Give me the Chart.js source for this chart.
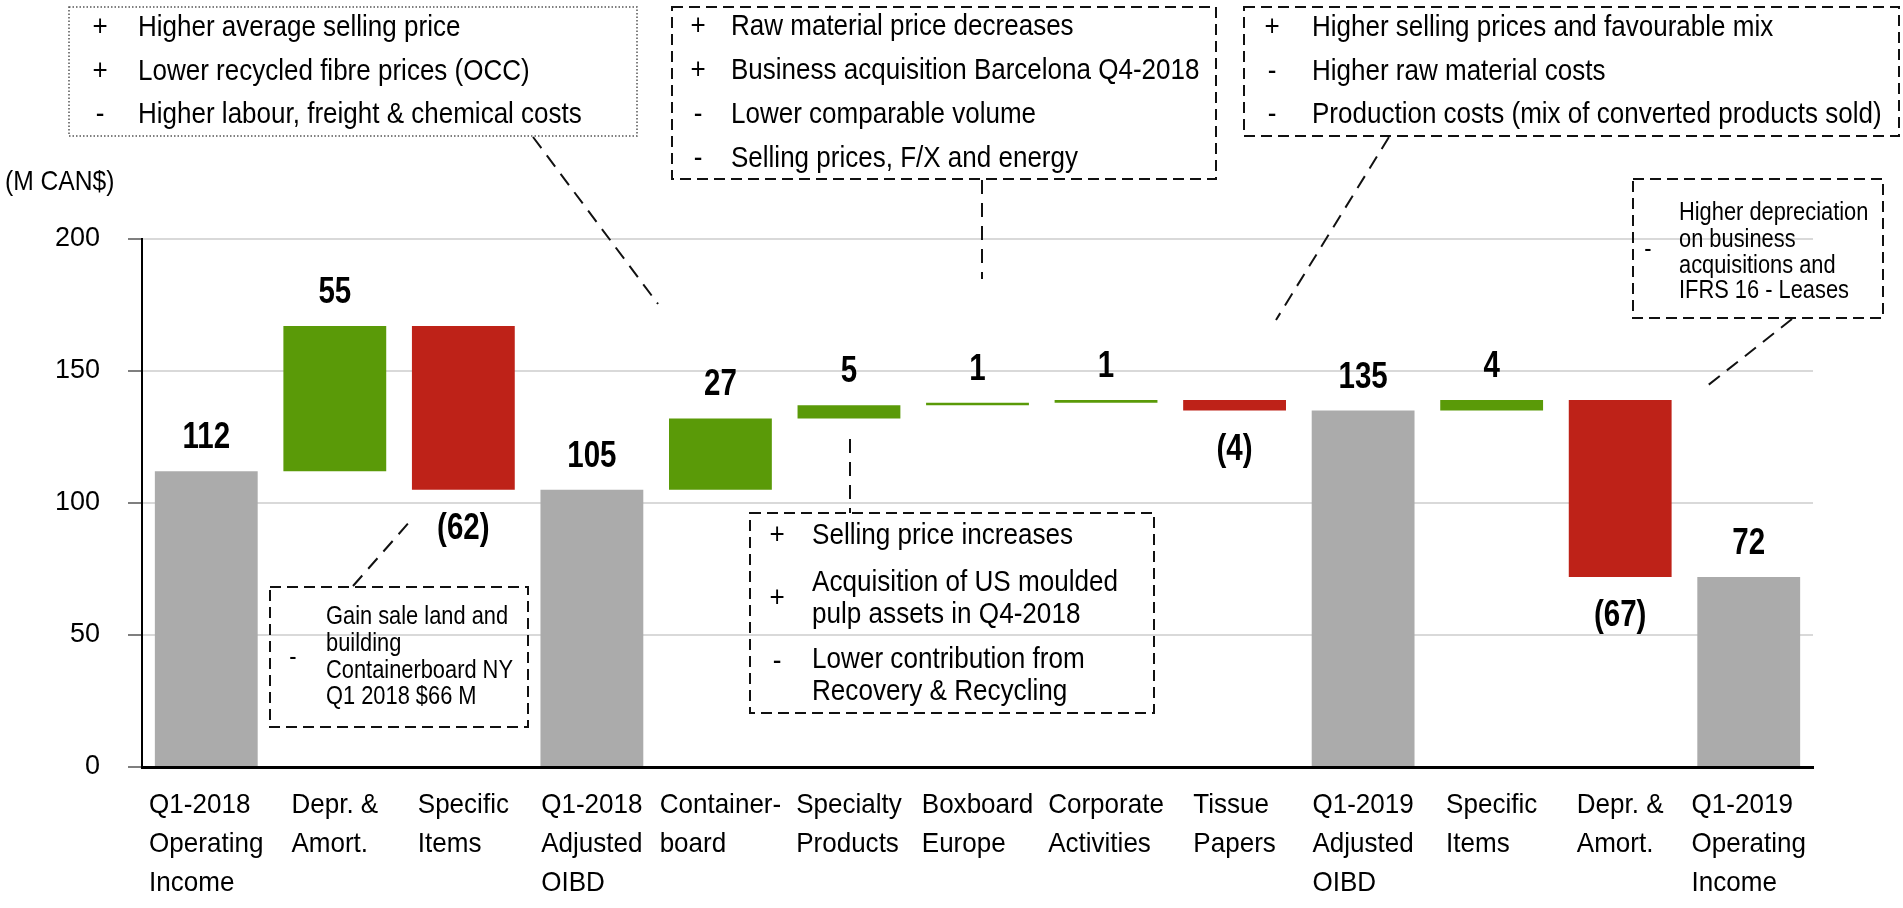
<!DOCTYPE html>
<html>
<head>
<meta charset="utf-8">
<title>Q1 OIBD bridge</title>
<script src="https://cdn.jsdelivr.net/npm/chart.js@4.4.0/dist/chart.umd.min.js"></script>
<style>
  html, body { margin: 0; padding: 0; background: #fff; }
  #wrap { width: 1903px; height: 908px; position: relative; }
</style>
</head>
<body>
<div id="wrap"><canvas id="bridgeChart" width="1903" height="908"></canvas></div>
<script>
// ---- data ----
const categories = [
  ["Q1-2018", "Operating", "Income"],
  ["Depr. &", "Amort."],
  ["Specific", "Items"],
  ["Q1-2018", "Adjusted", "OIBD"],
  ["Container-", "board"],
  ["Specialty", "Products"],
  ["Boxboard", "Europe"],
  ["Corporate", "Activities"],
  ["Tissue", "Papers"],
  ["Q1-2019", "Adjusted", "OIBD"],
  ["Specific", "Items"],
  ["Depr. &", "Amort."],
  ["Q1-2019", "Operating", "Income"]
];
const amounts = [112, 55, -62, 105, 27, 5, 1, 1, -4, 135, 4, -67, 72];
const isTotal = [true, false, false, true, false, false, false, false, false, true, false, false, true];
const yTicks = [0, 50, 100, 150, 200];
const unitLabel = "(M CAN$)";

// callout texts
const noteContainerboard = [
  ["+", ["Higher average selling price"]],
  ["+", ["Lower recycled fibre prices (OCC)"]],
  ["-", ["Higher labour, freight & chemical costs"]]
];
const noteBoxboard = [
  ["+", ["Raw material price decreases"]],
  ["+", ["Business acquisition Barcelona Q4-2018"]],
  ["-", ["Lower comparable volume"]],
  ["-", ["Selling prices, F/X and energy"]]
];
const noteTissue = [
  ["+", ["Higher selling prices and favourable mix"]],
  ["-", ["Higher raw material costs"]],
  ["-", ["Production costs (mix of converted products sold)"]]
];
const noteDepr2019 = [
  ["-", ["Higher depreciation", "on business", "acquisitions and", "IFRS 16 - Leases"]]
];
const noteSpecific2018 = [
  ["-", ["Gain sale land and", "building", "Containerboard NY", "Q1 2018 $66 M"]]
];
const noteSpecialty = [
  ["+", ["Selling price increases"]],
  ["+", ["Acquisition of US moulded", "pulp assets in Q4-2018"]],
  ["-", ["Lower contribution from", "Recovery & Recycling"]]
];

// ---- styles ----
const FONT = "'Liberation Sans', Arial, sans-serif";
const GREY = "#ABABAB", GREEN = "#5A9A08", RED = "#BE2218";

// floating ranges for the bridge
let level = 0;
const ranges = amounts.map((v, i) => {
  if (isTotal[i]) { level = v; return [0, v]; }
  const start = level;
  level += v;
  return [start, level];
});
const colors = amounts.map((v, i) => isTotal[i] ? GREY : (v < 0 ? RED : GREEN));
const valueText = amounts.map((v, i) => (!isTotal[i] && v < 0) ? "(" + Math.abs(v) + ")" : String(v));

// the slide text is a bit condensed, squeeze it horizontally
function squeezeText(ctx, text, x, y, sx) {
  ctx.save();
  ctx.translate(x, y);
  ctx.scale(sx, 1);
  ctx.fillText(text, 0, 0);
  ctx.restore();
}

// bold numbers above / below each bar
const valueLabels = {
  id: "valueLabels",
  afterDatasetsDraw(chart) {
    const ctx = chart.ctx;
    const meta = chart.getDatasetMeta(0);
    ctx.save();
    ctx.font = "bold 36px " + FONT;
    ctx.fillStyle = "#000";
    ctx.textAlign = "center";
    ctx.textBaseline = "middle";
    meta.data.forEach((el, i) => {
      const top = Math.min(el.y, el.base), bottom = Math.max(el.y, el.base);
      const y = (!isTotal[i] && amounts[i] < 0) ? bottom + 39 : top - 33;
      squeezeText(ctx, valueText[i], el.x, y, 0.82);
    });
    ctx.restore();
  }
};

// category labels: block centred under the bar, lines left aligned
const categoryLabels = {
  id: "categoryLabels",
  afterDraw(chart) {
    const ctx = chart.ctx;
    const xs = chart.scales.x;
    const sx = 0.93;
    ctx.save();
    ctx.font = "28px " + FONT;
    ctx.fillStyle = "#000";
    ctx.textAlign = "left";
    ctx.textBaseline = "middle";
    categories.forEach((lines, i) => {
      const cx = xs.getPixelForValue(i);
      const w = Math.max(...lines.map(l => ctx.measureText(l).width)) * sx;
      lines.forEach((l, k) => squeezeText(ctx, l, cx - w / 2, chart.chartArea.bottom + 38 + k * 39, sx));
    });
    squeezeText(ctx, unitLabel, 5, 182, 0.88);
    ctx.restore();
  }
};

function drawBox(ctx, b) {
  ctx.save();
  ctx.strokeStyle = b.dotted ? "#555" : "#111";
  ctx.lineWidth = b.dotted ? 1.5 : 2;
  ctx.setLineDash(b.dotted ? [1.5, 2] : [11, 6]);
  ctx.strokeRect(b.x0, b.y0, b.x1 - b.x0, b.y1 - b.y0);
  ctx.strokeStyle = "#111";
  ctx.lineWidth = 2;
  ctx.setLineDash([14, 9]);
  ctx.beginPath();
  ctx.moveTo(b.lead[0], b.lead[1]);
  ctx.lineTo(b.lead[2], b.lead[3]);
  ctx.stroke();
  ctx.setLineDash([]);
  ctx.fillStyle = "#000";
  ctx.font = b.size + "px " + FONT;
  ctx.textBaseline = "middle";
  b.items.forEach((item, k) => {
    const ys = b.ys[k];
    ctx.textAlign = "center";
    squeezeText(ctx, item[0], b.signX, b.signY ? b.signY[k] : ys[0], b.sx);
    ctx.textAlign = "left";
    item[1].forEach((line, j) => squeezeText(ctx, line, b.textX, ys[j], b.sx));
  });
  ctx.restore();
}

const callouts = {
  id: "callouts",
  afterDraw(chart) {
    const ctx = chart.ctx;
    const boxes = [
      { items: noteContainerboard, dotted: true, x0: 69, y0: 7, x1: 637, y1: 136, size: 30, sx: 0.867,
        signX: 100, textX: 138, ys: [[28], [72], [115]], lead: [533, 137, 658, 304] },
      { items: noteBoxboard, x0: 672, y0: 7, x1: 1216, y1: 179, size: 30, sx: 0.867,
        signX: 698, textX: 731, ys: [[27], [71], [115], [159]], lead: [982, 180, 982, 279] },
      { items: noteTissue, x0: 1244, y0: 7, x1: 1899, y1: 136, size: 30, sx: 0.867,
        signX: 1272, textX: 1312, ys: [[28], [72], [115]], lead: [1389, 137, 1276, 320] },
      { items: noteDepr2019, x0: 1633, y0: 179, x1: 1883, y1: 318, size: 26, sx: 0.84,
        signX: 1648, signY: [250], textX: 1679, ys: [[213, 240, 266, 291]], lead: [1792, 319, 1702, 390] },
      { items: noteSpecific2018, x0: 270, y0: 587, x1: 528, y1: 727, size: 26, sx: 0.84,
        signX: 293, signY: [658], textX: 326, ys: [[617, 644, 671, 697]], lead: [353, 586, 412, 519] },
      { items: noteSpecialty, x0: 750, y0: 513, x1: 1154, y1: 713, size: 29, sx: 0.9,
        signX: 777, signY: [536, 599, 662], textX: 812, ys: [[536], [583, 615], [660, 692]], lead: [850, 439, 850, 513] }
    ];
    boxes.forEach(b => drawBox(ctx, b));
  }
};

new Chart(document.getElementById("bridgeChart"), {
  type: "bar",
  data: {
    labels: categories,
    datasets: [{
      data: ranges,
      backgroundColor: colors,
      borderWidth: 0,
      categoryPercentage: 1,
      barPercentage: 0.8
    }]
  },
  options: {
    responsive: false,
    animation: false,
    layout: { padding: { left: 0, top: 239, right: 90, bottom: 141 } },
    plugins: { legend: { display: false }, tooltip: { enabled: false } },
    scales: {
      x: {
        grid: { display: false },
        border: { display: true, color: "#000", width: 3 },
        ticks: { display: false },
        afterFit(s) { s.height = 0; }
      },
      y: {
        min: 0, max: 200,
        afterBuildTicks(s) { s.ticks = yTicks.map(v => ({ value: v })); },
        grid: { color: "#D9D9D9", lineWidth: 2, tickLength: 14, tickColor: "#7F7F7F", tickWidth: 2 },
        border: { color: "#000", width: 2 },
        ticks: { font: { family: FONT, size: 27 }, color: "#000", padding: 28 },
        afterFit(s) { s.width = 142; }
      }
    }
  },
  plugins: [valueLabels, categoryLabels, callouts]
});
</script>
</body>
</html>
